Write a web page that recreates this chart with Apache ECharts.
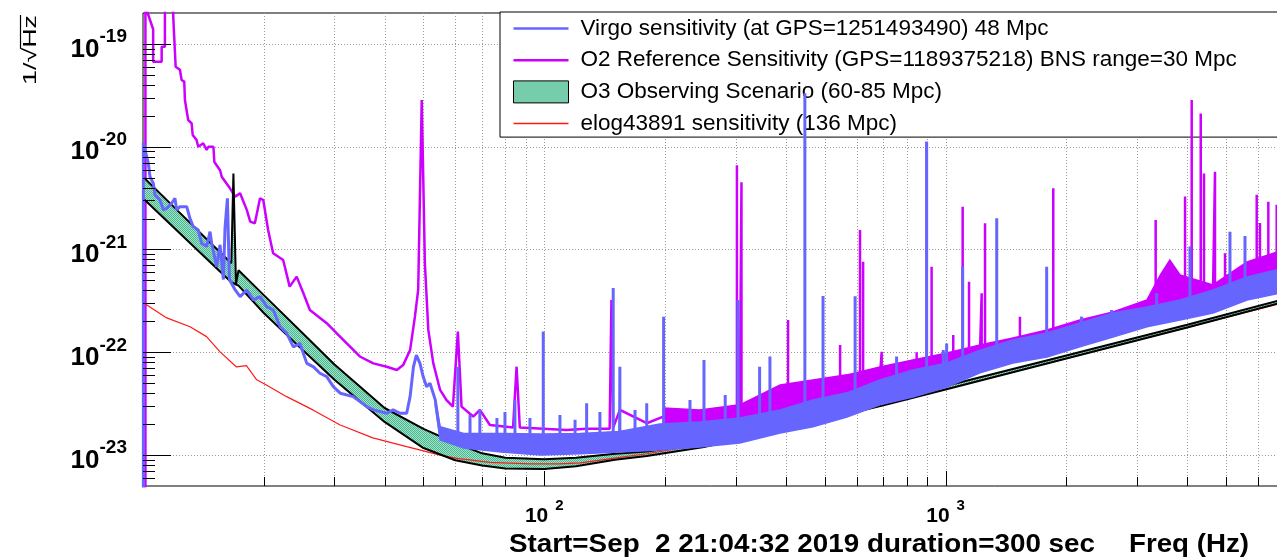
<!DOCTYPE html>
<html><head><meta charset="utf-8">
<script src="https://cdn.jsdelivr.net/npm/echarts@6/dist/echarts.min.js"></script>
<style>html,body{margin:0;padding:0;background:#fff}#c{width:1277px;height:560px}</style>
</head><body><div id="c"></div>
<script>
// ---------------- DATA ----------------
const virgoName = 'Virgo sensitivity (at GPS=1251493490) 48 Mpc';
const o2Name = 'O2 Reference Sensitivity (GPS=1189375218) BNS range=30 Mpc';
const o3Name = 'O3 Observing Scenario (60-85 Mpc)';
const redName = 'elog43891 sensitivity (136 Mpc)';

// Virgo trace (Hz, 1/sqrt(Hz))
const virgoFreq = [10.02,10.02,10.12,10.31,10.41,10.61,10.71,11.02,11.24,11.46,11.79,12.01,12.13,12.36,12.85,13.09,13.34,13.73,14.0,14.41,14.69,14.83,15.26,15.56,15.86,16.01,16.23,16.42,16.97,17.46,18.14,18.84,19.57,20.35,21.12,21.95,22.81,23.7,24.6,25.6,26.6,27.6,28.7,29.8,31.0,33.4,36.1,37.5,40.5,42.0,43.7,45.4,46.3,47.2,48.0,49.0,49.9,50.9,51.9,53.5,
  55,63,78,98,123,154,194,244,307,387,467,568,686,829,1008,1218,1472,1789,2162,2613,3176,3838,4639,5638,7000];
const virgoVal = [1e-24,1.1e-20,9.3e-21,6.9e-21,5.1e-21,4.4e-21,3.4e-21,3.03e-21,2.43e-21,2.52e-21,2.82e-21,3.15e-21,2.43e-21,2.61e-21,2.61e-21,2.01e-21,1.67e-21,1.55e-21,1.15e-21,1.07e-21,1.49e-21,1.15e-21,6.8e-22,1.11e-21,5.1e-22,1.61e-21,3.15e-21,5.1e-22,4.04e-22,3.48e-22,4.04e-22,3.23e-22,3.48e-22,2.78e-22,2.58e-22,1.77e-22,1.53e-22,1.13e-22,1.22e-22,7.8e-23,7.2e-23,6.25e-23,5.8e-23,4.63e-23,4.0e-23,3.7e-23,2.96e-23,2.75e-23,2.55e-23,2.75e-23,2.55e-23,2.55e-23,3.7e-23,7.2e-23,9.4e-23,7.8e-23,5.8e-23,4.63e-23,5.0e-23,3.44e-23,
  1.63e-23,1.38e-23,1.32e-23,1.27e-23,1.29e-23,1.35e-23,1.44e-23,1.59e-23,1.74e-23,2.12e-23,2.54e-23,3.08e-23,4.07e-23,4.98e-23,6.02e-23,8.13e-23,1.02e-22,1.18e-22,1.48e-22,1.84e-22,2.21e-22,2.58e-22,3.12e-22,4.18e-22,5.04e-22];
// Virgo narrow lines: frequency, foot, top
const virgoSpikeFreq = [60.9,65.3,69.1,76.2,79.8,84.5,92.1,99.4,109.4,119.3,127.5,137.6,148.5,154.3,168.3,180,198.3,230.7,250,282.4,304,344,365,446,495,595,755,897,987,1006,1103,1341,1786,2183,2592,3357,4064,5113,5573];
const virgoSpikeBase = [1.4e-23,1.35e-23,1.35e-23,1.32e-23,1.32e-23,1.32e-23,1.28e-23,1.27e-23,1.28e-23,1.29e-23,1.29e-23,1.3e-23,1.35e-23,1.35e-23,1.38e-23,1.4e-23,1.44e-23,1.55e-23,1.6e-23,1.7e-23,1.73e-23,1.9e-23,2.0e-23,2.45e-23,2.7e-23,3.3e-23,4.6e-23,5.4e-23,5.9e-23,6.0e-23,7.0e-23,9.0e-23,1.18e-22,1.48e-22,1.84e-22,2.3e-22,2.9e-22,3.6e-22,4.1e-22];
const virgoSpikePeak = [7.24e-23,2.46e-23,2.75e-23,2.3e-23,2.63e-23,3.44e-23,2.3e-23,1.59e-22,2.46e-23,2.2e-23,3.19e-23,2.63e-23,4.23e-22,7.24e-23,2.75e-23,3.19e-23,2.22e-22,3.44e-23,8.43e-23,3.85e-23,3.23e-22,7.24e-23,9.1e-23,3.31e-20,3.53e-22,3.5e-22,9.1e-23,1.12e-20,1.05e-22,1.22e-22,6.8e-22,2.01e-21,6.8e-22,2.22e-22,2.58e-22,3.75e-22,1.07e-21,1.49e-21,1.35e-21];
// Virgo noise envelope
const virgoBandFreq = [53.5,55,63,78,98,123,154,194,244,307,387,467,568,686,829,1008,1218,1472,1789,2162,2613,3176,3838,4639,5638,7000];
const virgoBandHi = [3.44e-23,1.89e-23,1.62e-23,1.62e-23,1.6e-23,1.62e-23,1.7e-23,2.0e-23,2.1e-23,2.3e-23,2.75e-23,3.44e-23,4.03e-23,5.38e-23,6.73e-23,7.87e-23,1.05e-22,1.32e-22,1.54e-22,1.93e-22,2.41e-22,2.76e-22,3.23e-22,4.04e-22,5.41e-22,6.6e-22];
const virgoBandLo = [3.0e-23,1.40e-23,1.17e-23,1.07e-23,1.0e-23,1.03e-23,1.07e-23,1.12e-23,1.20e-23,1.31e-23,1.64e-23,1.88e-23,2.35e-23,3.08e-23,3.68e-23,4.60e-23,6.30e-23,7.87e-23,9.0e-23,1.13e-22,1.41e-22,1.77e-22,2.06e-22,2.41e-22,3.23e-22,3.85e-22];

// O2 reference trace
const o2Freq = [10.14,10.14,10.27,10.6,10.6,11.13,11.13,11.34,11.34,11.86,11.9,12.06,12.36,12.48,12.67,12.72,12.96,13.22,13.3,13.6,13.73,14.13,14.41,14.55,14.98,15.06,15.56,15.71,16.47,16.97,17.46,17.8,18.14,18.5,19.0,19.57,19.94,20.5,21.1,22.35,23.2,24.15,25.1,26.05,28.7,30.4,32.2,34.7,37.5,40.5,42.9,44.5,46.3,47.6,48.5,49.5,50.4,51.4,52.9,55.0,57.0,59.2,60.9,62.2,66.5,69.1,73.2,83.6,85.3,86.9,99.4,113.6,127.5,145.5,147,148.5,154.3,180,
  198,244,307,387,467,568,686,829,1008,1218,1472,1789,2162,2613,3176,3430,3620,3840,4639,5638,7000];
const o2Val = [1e-24,3e-19,2.0e-19,1.39e-19,6.7e-20,6.7e-20,9.4e-20,9.4e-20,3e-19,3e-19,1.78e-19,6.0e-20,5.6e-20,4.46e-20,4.3e-20,2.85e-20,1.82e-20,1.69e-20,1.30e-20,1.16e-20,1.0e-20,1.08e-20,9.3e-21,1.0e-20,1.0e-20,7.1e-21,5.9e-21,5.1e-21,3.94e-21,3.27e-21,3.52e-21,2.92e-21,2.43e-21,1.87e-21,1.80e-21,3.15e-21,3.03e-21,1.55e-21,9.2e-22,7.9e-22,4.35e-22,5.45e-22,3.75e-22,2.58e-22,1.92e-22,1.53e-22,1.22e-22,9.1e-23,7.8e-23,7.24e-23,6.73e-23,7.5e-23,1.05e-22,2.22e-22,4.04e-22,2.85e-20,7.3e-22,1.65e-22,7.8e-23,4.3e-23,3.44e-23,2.96e-23,1.59e-22,2.96e-23,2.37e-23,2.75e-23,1.96e-23,1.85e-23,7.24e-23,1.85e-23,1.8e-23,1.75e-23,1.8e-23,1.8e-23,3.23e-22,1.85e-23,2.75e-23,2.04e-23,
  2.37e-23,2.32e-23,2.54e-23,3.54e-23,4.3e-23,4.87e-23,5.88e-23,6.88e-23,8.15e-23,9.75e-23,1.18e-22,1.40e-22,1.70e-22,2.09e-22,2.70e-22,4.0e-22,4.9e-22,4.2e-22,3.9e-22,5.85e-22,7.8e-22];
const o2SpikeFreq = [302,310,405,546,612,623,693,847,897,923,1045,1103,1144,1230,1254,1532,1855,3338,3951,4105,4323,4405,4692,4970,5961,6073,6372,6685];
const o2SpikeBase = [2.5e-23,2.55e-23,3.7e-23,4.8e-23,5.3e-23,5.4e-23,5.9e-23,7.0e-23,7.4e-23,7.6e-23,8.5e-23,9.0e-23,9.3e-23,9.8e-23,1.0e-22,1.22e-22,1.45e-22,3.0e-22,4.1e-22,4.0e-22,3.9e-22,3.9e-22,4.0e-22,4.6e-22,6.3e-22,6.5e-22,6.9e-22,7.4e-22];
const o2SpikePeak = [6.6e-21,4.5e-21,2.06e-22,1.18e-22,1.55e-21,7.6e-22,1.01e-22,1.0e-22,1.12e-20,6.8e-22,1.47e-22,2.61e-21,4.86e-22,3.75e-22,1.80e-21,2.22e-22,3.94e-21,1.94e-21,3.27e-21,2.85e-20,2.11e-20,5.5e-21,5.7e-21,9.2e-22,3.4e-21,1.81e-21,2.92e-21,2.72e-21];
const o2BandFreq = [198,244,307,387,467,568,686,829,1008,1218,1472,1789,2162,2613,3176,3430,3620,3840,4639,5638,7000];
const o2BandHi = [2.87e-23,2.75e-23,3.08e-23,4.81e-23,5.38e-23,6.03e-23,7.2e-23,8.43e-23,9.86e-23,1.18e-22,1.38e-22,1.65e-22,2.06e-22,2.47e-22,3.23e-22,5.65e-22,7.9e-22,5.65e-22,4.52e-22,7.57e-22,1.0e-21];
const o2BandLo = [1.96e-23,1.96e-23,2.10e-23,2.6e-23,3.44e-23,3.94e-23,4.81e-23,5.62e-23,6.73e-23,8.05e-23,1.01e-22,1.18e-22,1.41e-22,1.77e-22,2.26e-22,2.9e-22,3.0e-22,3.1e-22,3.38e-22,4.52e-22,6.05e-22];

// O3 observing scenario band (upper = 60 Mpc, lower = 85 Mpc)
const o3Freq = [10,12,15,16.6,16.8,17.05,17.3,20,25,30,40,50,60,70,80,100,120,150,180,250,400,700,1000,2000,4000,7000];
const o3Upper = [5.11e-21,2.54e-21,1.08e-21,7.36e-22,5.5e-21,4.6e-22,6.28e-22,3.6e-22,1.53e-22,7.6e-23,2.87e-23,1.80e-23,1.31e-23,1.04e-23,9.4e-24,9.1e-24,9.4e-24,1.03e-23,1.08e-23,1.3e-23,1.95e-23,3.3e-23,4.7e-23,9.3e-23,1.85e-22,3.3e-22];
const o3Lower = [3.15e-21,1.60e-21,7.0e-22,4.81e-22,4.7e-22,4.55e-22,4.45e-22,2.41e-22,1.05e-22,5.4e-23,2.10e-23,1.17e-23,8.9e-24,7.9e-24,7.4e-24,7.3e-24,7.8e-24,9.0e-24,9.8e-24,1.2e-23,1.8e-23,3.05e-23,4.35e-23,8.7e-23,1.74e-22,3.1e-22];

// elog43891 sensitivity
const redFreq = [10,11.46,13.1,14.4,15.56,17.1,18.1,19.2,20.3,22.8,26.5,31,37.4,45.4,55,60.6,73.2,92,109,123,148,180,218,263,320,387,500,1000,2000,4000,7000];
const redVal = [3.05e-22,2.16e-22,1.77e-22,1.42e-22,1.01e-22,7.2e-23,7.4e-23,5.4e-23,4.8e-23,3.7e-23,2.75e-23,1.96e-23,1.47e-23,1.21e-23,1.0e-23,9.3e-24,8.5e-24,8.2e-24,8.2e-24,8.4e-24,9.3e-24,1.03e-23,1.17e-23,1.30e-23,1.51e-23,1.69e-23,2.18e-23,4.37e-23,8.7e-23,1.75e-22,3.05e-22];

// axes
const xMin = 10, xMax = 6813, yMin = 5e-24, yMax = 2e-19;
const xMajorTicks = [100, 1000];
const xMinorTicks = [20,30,40,50,60,70,80,90,200,300,400,500,600,700,800,900,2000,3000,4000,5000,6000];
const yMajorTicks = [1e-23,1e-22,1e-21,1e-20,1e-19];
const yMinorMult = [2,3,4,5,6,7,8,9];
const xTitleLeft = 'Start=Sep  2 21:04:32 2019 duration=300 sec';
const xTitleRight = 'Freq (Hz)';
const yTitleParts = ['1/', '\u221A', 'Hz'];

// ---------------- helpers ----------------
const BLUE = '#6666ff', MAGENTA = '#cc00ff', RED = '#ff1a1a';
function buildTrace(fr, vals, sf, sb, sp) {
  const items = [];
  fr.forEach((f, i) => items.push({f, k: 0, i, pts: [[f, vals[i]]]}));
  (sf || []).forEach((f, i) => items.push({f, k: 1, i, pts: [[f, sb[i]], [f, sp[i]], [f, sb[i]]]}));
  items.sort((a, b) => (a.f - b.f) || (a.k - b.k) || (a.i - b.i));
  const out = [];
  items.forEach(it => it.pts.forEach(p => out.push(p)));
  return out;
}
function pairs(fr, v) { return fr.map((f, i) => [f, v[i]]); }
function makePattern() {
  const c = document.createElement('canvas'); c.width = 2; c.height = 2;
  const g = c.getContext('2d');
  g.fillStyle = '#a6e2cb'; g.fillRect(0, 0, 2, 2);
  g.fillStyle = '#45b98b'; g.fillRect(0, 0, 1, 1); g.fillRect(1, 1, 1, 1);
  return c;
}
const bandFill = {type: 'pattern', image: makePattern(), repeat: 'repeat'};
const yMinorTicks = [];
[1e-24,1e-23,1e-22,1e-21,1e-20,1e-19].forEach(d => yMinorMult.forEach(m => {
  const v = m * d; if (v > yMin * 1.01 && v < yMax * 0.99) yMinorTicks.push(v);
}));
function measure(text, font) {
  const g = document.createElement('canvas').getContext('2d');
  g.font = font; return g.measureText(text).width;
}
function bandRender(fr, hi, lo, color) {
  return function (params, api) {
    const pts = [];
    for (let i = 0; i < fr.length; i++) pts.push(api.coord([fr[i], hi[i]]));
    for (let i = fr.length - 1; i >= 0; i--) pts.push(api.coord([fr[i], lo[i]]));
    return {type: 'polygon', shape: {points: pts}, style: color === 'pattern' ? {fill: bandFill} : {fill: color, stroke: color, lineWidth: 1.5}};
  };
}
const px = v => Math.round(v) + 0.5;

function gridRender(params, api) {
  const cs = params.coordSys, ch = [];
  const st = {stroke: '#9a9a9a', lineWidth: 1, lineDash: [1, 2]};
  xMinorTicks.concat(xMajorTicks).forEach(f => {
    const x = px(api.coord([f, yMin])[0]);
    ch.push({type: 'line', shape: {x1: x, y1: cs.y, x2: x, y2: cs.y + cs.height}, style: st});
  });
  yMajorTicks.forEach(v => {
    const y = px(api.coord([xMin, v])[1]);
    ch.push({type: 'line', shape: {x1: cs.x, y1: y, x2: cs.x + cs.width, y2: y}, style: st});
  });
  return {type: 'group', children: ch};
}
function tickRender(params, api) {
  const cs = params.coordSys, ch = [];
  const st = {stroke: '#000', lineWidth: 1};
  const yb = cs.y + cs.height;
  xMajorTicks.forEach(f => { const x = px(api.coord([f, yMin])[0]); ch.push({type: 'line', shape: {x1: x, y1: yb, x2: x, y2: yb - 15}, style: st}); });
  xMinorTicks.forEach(f => { const x = px(api.coord([f, yMin])[0]); ch.push({type: 'line', shape: {x1: x, y1: yb, x2: x, y2: yb - 9}, style: st}); });
  yMajorTicks.forEach(v => { const y = px(api.coord([xMin, v])[1]); ch.push({type: 'line', shape: {x1: cs.x, y1: y, x2: cs.x + 28, y2: y}, style: st}); });
  yMinorTicks.forEach(v => { const y = px(api.coord([xMin, v])[1]); ch.push({type: 'line', shape: {x1: cs.x, y1: y, x2: cs.x + 12, y2: y}, style: st}); });
  return {type: 'group', children: ch};
}
function expOf(v) { const l = Math.log10(v), e = Math.round(l); return Math.abs(l - e) < 1e-6 ? e : null; }

// ---------------- chart ----------------
const chart = echarts.init(document.getElementById('c'), null, {renderer: 'canvas'});
const titleFont = 'bold 25px "Liberation Sans", Arial';
const sL = 586 / measure(xTitleLeft, titleFont);
const sR = 120 / measure(xTitleRight, titleFont);
// y title: "1/sqrt(Hz)", written upwards, ends at y=13, starts at y=85
const yTitleFont = '19px "Liberation Sans", Arial';
const yTitleText = yTitleParts.join('');
const sY = 70 / measure(yTitleText, yTitleFont);
const yTitleStart = 85;
const wPre = measure(yTitleParts[0] + yTitleParts[1], yTitleFont) * sY;
const wAll = measure(yTitleText, yTitleFont) * sY;

const line = (name, data, color, width, z) => ({
  type: 'line', name, data, z, symbol: 'none', showSymbol: false, clip: true, silent: true,
  lineStyle: {color, width}, itemStyle: {color}, emphasis: {disabled: true}, animation: false
});

chart.setOption({
  animation: false,
  grid: {left: 143, right: -3, top: 13, bottom: 74, show: true, borderColor: '#000', borderWidth: 1, backgroundColor: 'transparent', containLabel: false, outerBoundsMode: 'none'},
  xAxis: {
    type: 'log', logBase: 10, min: xMin, max: xMax, splitNumber: 3,
    axisLine: {show: false}, axisTick: {show: false}, splitLine: {show: false}, minorTick: {show: false}, minorSplitLine: {show: false},
    axisLabel: {
      margin: 12, showMinLabel: false,
      formatter: v => { const e = expOf(v); return (e !== null && e >= 2) ? '{b|10}{s|' + e + '}' : ''; },
      rich: {
        b: {fontFamily: '"Liberation Sans", Arial', fontWeight: 'bold', fontSize: 21, color: '#000', lineHeight: 29, verticalAlign: 'bottom'},
        s: {fontFamily: '"Liberation Sans", Arial', fontWeight: 'bold', fontSize: 15, color: '#000', lineHeight: 15, verticalAlign: 'top', padding: [0, 0, 0, 7]}
      }
    }
  },
  yAxis: {
    type: 'log', logBase: 10, min: yMin, max: yMax,
    axisLine: {show: false}, axisTick: {show: false}, splitLine: {show: false}, minorTick: {show: false}, minorSplitLine: {show: false},
    axisLabel: {
      margin: 16, padding: [2, 0, 0, 0],
      formatter: v => { const e = expOf(v); return e !== null ? '{b|10}{s|' + e + '}' : ''; },
      rich: {
        b: {fontFamily: '"Liberation Sans", Arial', fontWeight: 'bold', fontSize: 26, color: '#000', lineHeight: 35, verticalAlign: 'bottom'},
        s: {fontFamily: '"Liberation Sans", Arial', fontWeight: 'bold', fontSize: 19, color: '#000', lineHeight: 19, verticalAlign: 'top'}
      }
    }
  },
  legend: {
    show: true, orient: 'vertical', left: 500, top: 12, z: 2,
    itemWidth: 55, itemHeight: 22, itemGap: 8.7,
    padding: [5, 90, 2, 13], borderColor: '#000', borderWidth: 1, backgroundColor: '#fff',
    selectedMode: false,
    textStyle: {fontFamily: '"Liberation Sans", Arial', fontSize: 22.5, color: '#000', padding: [0, 0, 0, 7]},
    itemStyle: {borderWidth: 0},
    data: [
      {name: virgoName, icon: 'path://M0,0H55V2.5H0Z', itemStyle: {color: BLUE, borderWidth: 0}},
      {name: o2Name, icon: 'path://M0,0H55V2.5H0Z', itemStyle: {color: MAGENTA, borderWidth: 0}},
      {name: o3Name, icon: 'rect', itemStyle: {color: bandFill, borderColor: '#000', borderWidth: 1}},
      {name: redName, icon: 'path://M0,0H55V1.5H0Z', itemStyle: {color: RED, borderWidth: 0}}
    ]
  },
  graphic: [
    {type: 'text', x: 509, y: 545, scaleX: sL, silent: true, style: {text: xTitleLeft, font: titleFont, fill: '#000', textAlign: 'left', textVerticalAlign: 'middle'}},
    {type: 'text', x: 1129, y: 545, scaleX: sR, silent: true, style: {text: xTitleRight, font: titleFont, fill: '#000', textAlign: 'left', textVerticalAlign: 'middle'}},
    {type: 'text', x: 31, y: yTitleStart, rotation: Math.PI / 2, scaleX: sY, silent: true, style: {text: yTitleText, font: yTitleFont, fill: '#000', textAlign: 'left', textVerticalAlign: 'middle'}},
    {type: 'line', silent: true, shape: {x1: 20.5, y1: yTitleStart - wPre + 1, x2: 20.5, y2: yTitleStart - wAll}, style: {stroke: '#000', lineWidth: 1.2}}
  ],
  series: [
    {type: 'custom', name: 'grid-lines', z: 1, silent: true, clip: false, data: [[100, 1e-21]], renderItem: gridRender},
    line(o2Name, buildTrace(o2Freq, o2Val, o2SpikeFreq, o2SpikeBase, o2SpikePeak), MAGENTA, 2.5, 3),
    {type: 'custom', name: 'o2-noise', z: 3, silent: true, clip: true, data: [[100, 1e-21]], renderItem: bandRender(o2BandFreq, o2BandHi, o2BandLo, MAGENTA)},
    {type: 'custom', name: o3Name, z: 4, silent: true, clip: true, data: [[100, 1e-21]], itemStyle: {color: '#6fcfa8'}, renderItem: bandRender(o3Freq, o3Upper, o3Lower, 'pattern')},
    line(redName, pairs(redFreq, redVal), RED, 1.2, 5),
    line('o3-upper', pairs(o3Freq, o3Upper), '#000', 2, 6),
    line('o3-lower', pairs(o3Freq, o3Lower), '#000', 2, 6),
    {type: 'custom', name: 'virgo-noise', z: 7, silent: true, clip: true, data: [[100, 1e-21]], renderItem: bandRender(virgoBandFreq, virgoBandHi, virgoBandLo, BLUE)},
    line(virgoName, buildTrace(virgoFreq, virgoVal, virgoSpikeFreq, virgoSpikeBase, virgoSpikePeak), BLUE, 3, 7),
    {type: 'custom', name: 'ticks', z: 9, silent: true, clip: false, data: [[100, 1e-21]], renderItem: tickRender}
  ]
});
</script></body></html>
